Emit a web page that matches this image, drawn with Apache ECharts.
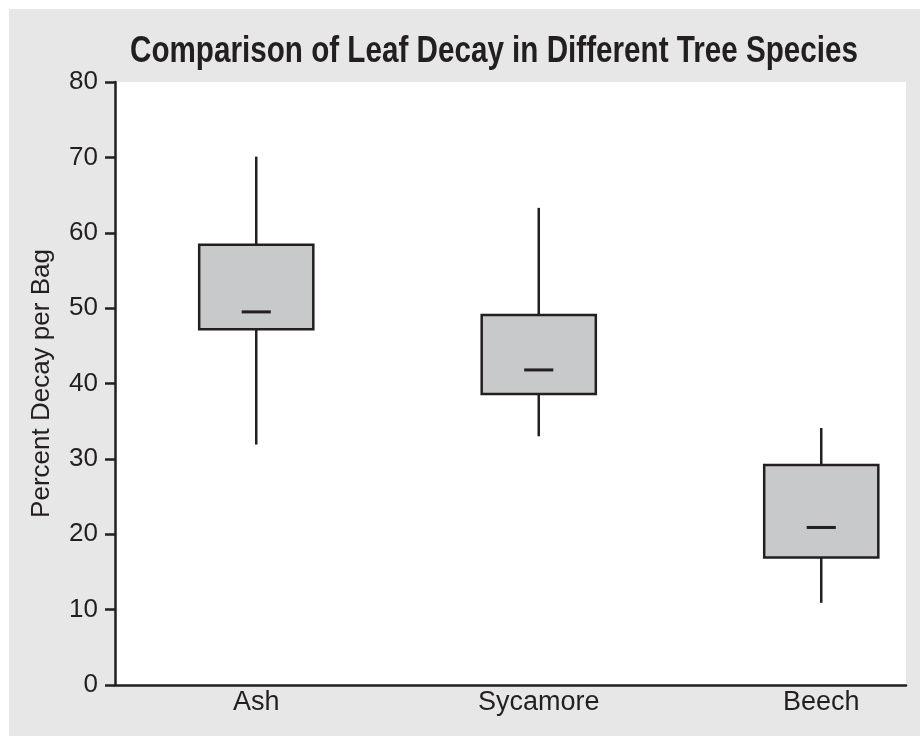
<!DOCTYPE html>
<html>
<head>
<meta charset="utf-8">
<script src="https://cdn.jsdelivr.net/npm/echarts@6/dist/echarts.min.js"></script>
<style>
  html, body { margin: 0; padding: 0; background: #ffffff; }
  #main { position: absolute; left: 9px; top: 9px; width: 911px; height: 727px; }
</style>
</head>
<body>
<div id="main"></div>
<script>
// tree species shown on the x axis
const species = ["Ash", "Sycamore", "Beech"];
// box plot values (percent decay per bag)
const lowWhisker = [31.9, 33.0, 10.9];
const lowerQuartile = [47.2, 38.6, 16.9];
const medians = [49.5, 41.8, 20.9];
const upperQuartile = [58.4, 49.1, 29.2];
const highWhisker = [70.1, 63.3, 34.1];
// y axis ticks
const yTicks = [0, 10, 20, 30, 40, 50, 60, 70, 80];

const ink = "#231f20";
const titleText = "Comparison of Leaf Decay in Different Tree Species";
const titleFont = 'bold 36px "Liberation Sans"';

// the title is a condensed face, so squeeze a regular bold one to the same width
const ctx = document.createElement("canvas").getContext("2d");
ctx.font = titleFont;
const titleScale = 728 / ctx.measureText(titleText).width;

// one row per box: [position, min, q1, median, q3, max]
const boxData = species.map((s, i) => [
  i + 0.5, lowWhisker[i], lowerQuartile[i], medians[i], upperQuartile[i], highWhisker[i]
]);

function renderBox(params, api) {
  const x = api.value(0);
  const top = api.coord([x, api.value(5)]);
  const q3 = api.coord([x, api.value(4)]);
  const med = api.coord([x, api.value(3)]);
  const q1 = api.coord([x, api.value(2)]);
  const bottom = api.coord([x, api.value(1)]);
  const w = api.size([0.404, 0])[0];
  const mw = w * 0.255;
  const lineStyle = { stroke: ink, lineWidth: 2.5 };
  return {
    type: "group",
    children: [
      { type: "line", shape: { x1: top[0], y1: top[1], x2: q3[0], y2: q3[1] }, style: lineStyle },
      { type: "line", shape: { x1: q1[0], y1: q1[1], x2: bottom[0], y2: bottom[1] }, style: lineStyle },
      {
        type: "rect",
        shape: { x: q3[0] - w / 2, y: q3[1], width: w, height: q1[1] - q3[1] },
        style: { fill: "#c8c9cb", stroke: ink, lineWidth: 2.5 }
      },
      {
        type: "line",
        shape: { x1: med[0] - mw / 2, y1: med[1], x2: med[0] + mw / 2, y2: med[1] },
        style: { stroke: ink, lineWidth: 3 }
      }
    ]
  };
}

const chart = echarts.init(document.getElementById("main"));
chart.setOption({
  backgroundColor: "#e6e7e6",
  animation: false,
  graphic: [
    {
      type: "text",
      x: 121,
      y: 43,
      scaleX: titleScale,
      style: {
        text: titleText,
        font: titleFont,
        fill: ink,
        align: "left",
        verticalAlign: "middle"
      }
    }
  ],
  grid: {
    left: 106,
    right: 14,
    top: 73,
    bottom: 51,
    show: true,
    backgroundColor: "#ffffff",
    borderWidth: 0
  },
  xAxis: {
    type: "value",
    min: 0,
    max: 2.8,
    splitLine: { show: false },
    axisTick: { show: false },
    axisLine: { show: true, onZero: false, lineStyle: { color: ink, width: 2.5 } },
    axisLabel: {
      customValues: species.map((s, i) => i + 0.5),
      formatter: v => species[Math.floor(v)],
      fontFamily: "Liberation Sans",
      fontSize: 27,
      color: ink,
      margin: 4
    }
  },
  yAxis: {
    type: "value",
    min: 0,
    max: 80,
    interval: 10,
    name: "Percent Decay per Bag",
    nameLocation: "middle",
    nameRotate: 90,
    nameGap: 60,
    nameTextStyle: { fontFamily: "Liberation Sans", fontSize: 26, color: ink },
    splitLine: { show: false },
    axisLine: { show: true, lineStyle: { color: ink, width: 2.5 } },
    axisTick: { show: true, length: 10, lineStyle: { color: ink, width: 2.5 } },
    axisLabel: {
      customValues: yTicks,
      fontFamily: "Liberation Sans",
      fontSize: 26,
      color: ink,
      margin: 17
    }
  },
  series: [
    {
      type: "custom",
      renderItem: renderBox,
      encode: { x: 0, y: [1, 2, 3, 4, 5] },
      data: boxData
    }
  ]
});
</script>
</body>
</html>
